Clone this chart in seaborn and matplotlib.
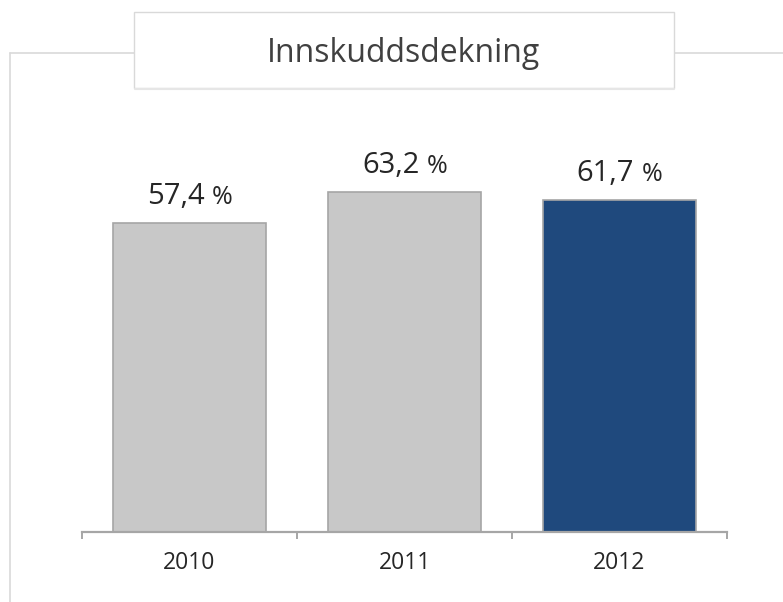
import matplotlib
matplotlib.use("Agg")
import matplotlib.pyplot as plt
from matplotlib.patches import Rectangle
from matplotlib.lines import Line2D
from matplotlib.transforms import offset_copy
import seaborn as sns
import pandas as pd

years = ["2010", "2011", "2012"]
values = [57.4, 63.2, 61.7]
value_numbers = ["57,4", "63,2", "61,7"]
value_unit = "%"
bar_colors = ["#C8C8C8", "#C8C8C8", "#1F497D"]
title = "Innskuddsdekning"

sns.set_theme(style="white")
plt.rcParams["font.family"] = ["Open Sans", "DejaVu Sans"]

W, H = 783, 602
fig = plt.figure(figsize=(W / 100, H / 100), dpi=100)
fig.patch.set_facecolor("white")

def fx(px):
    return px / W

def fy(py):
    return 1 - py / H

ax_left, ax_right, ax_base = 82, 727, 532
ymax = 70
ppu = 5.38
ax_top = ax_base - ymax * ppu
ax = fig.add_axes([fx(ax_left), fy(ax_base), fx(ax_right) - fx(ax_left), fy(ax_top) - fy(ax_base)])

df = pd.DataFrame({"year": years, "value": values})
sns.barplot(data=df, x="year", y="value", hue="year", palette=bar_colors,
            width=0.716, edgecolor="#A6A6A6", linewidth=1.2, legend=False,
            saturation=1, ax=ax)

ax.set_xlim(-0.5, 2.5)
ax.set_ylim(0, ymax)
ax.set_xlabel("")
ax.set_ylabel("")
ax.set_yticks([])
for s in ["top", "right", "left"]:
    ax.spines[s].set_visible(False)
ax.spines["bottom"].set_color("#A6A6A6")
ax.spines["bottom"].set_linewidth(1.6)
ax.patch.set_alpha(0)

ax.set_xticks(range(len(years)))
ax.set_xticklabels(years)
ax.set_xticks([-0.5, 0.5, 1.5, 2.5], minor=True)
ax.tick_params(axis="x", which="major", length=0, pad=14, labelsize=16.5, labelcolor="#262626")
ax.tick_params(axis="x", which="minor", length=5, width=1.4, color="#A6A6A6", bottom=True)

renderer = fig.canvas.get_renderer()
gap_px = 7
for i, (v, num) in enumerate(zip(values, value_numbers)):
    t1 = ax.text(i, v, num, ha="left", va="baseline", fontsize=21, color="#262626")
    t2 = ax.text(i, v, value_unit, ha="left", va="baseline", fontsize=18, color="#262626")
    w1 = t1.get_window_extent(renderer).width
    w2 = t2.get_window_extent(renderer).width
    total = w1 + gap_px + w2
    dy = 19 * 72 / 100
    t1.set_transform(offset_copy(ax.transData, fig=fig, x=-total / 2 * 72 / 100, y=dy, units="points"))
    t2.set_transform(offset_copy(ax.transData, fig=fig, x=(-total / 2 + w1 + gap_px) * 72 / 100, y=dy, units="points"))

# frame lines
border = "#D9D9D9"
fig.add_artist(Line2D([fx(10), fx(10)], [fy(53), 0], color=border, lw=1.2))
fig.add_artist(Line2D([fx(10), fx(134)], [fy(53), fy(53)], color=border, lw=1.2))
fig.add_artist(Line2D([fx(674), 1], [fy(53), fy(53)], color=border, lw=1.2))

# title box
fig.add_artist(Rectangle((fx(134), fy(88)), fx(674) - fx(134), fy(12) - fy(88),
                         facecolor="white", edgecolor=border, lw=1.0, zorder=5))
fig.add_artist(Line2D([fx(135), fx(674)], [fy(89), fy(89)], color="#E6E6E6", lw=1.5, zorder=5))
fig.text(fx(404), fy(53.5), title, ha="center", va="center", fontsize=23,
         color="#404040", zorder=6)

fig.savefig("out.png", dpi=100)
